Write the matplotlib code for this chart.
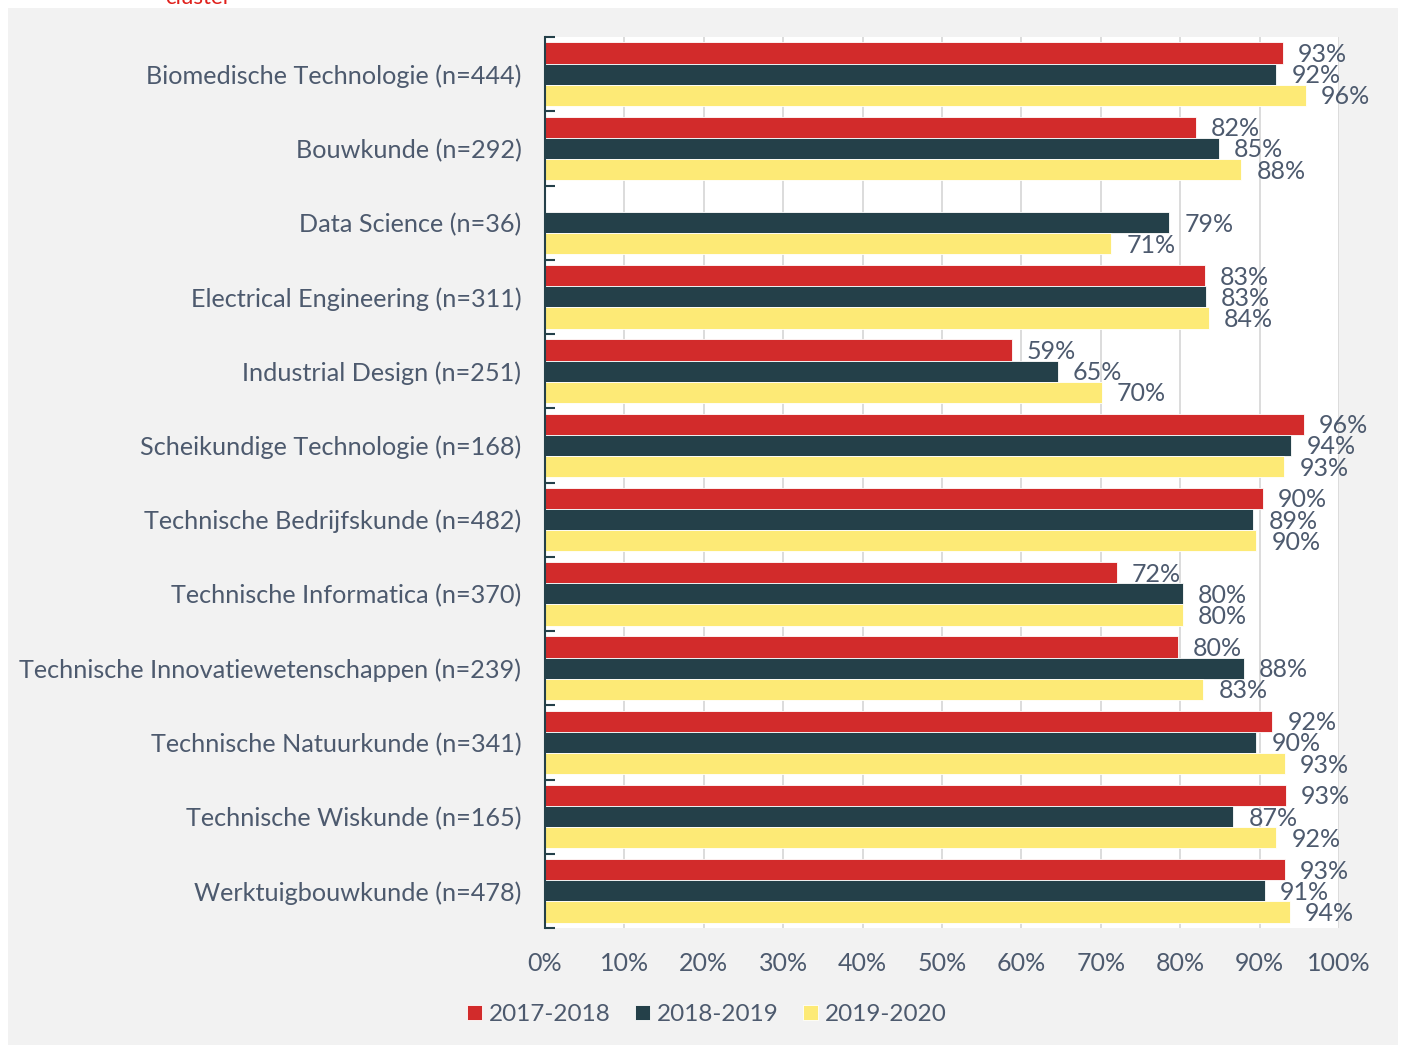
import numpy as np
import matplotlib
matplotlib.use("Agg")
import matplotlib.pyplot as plt
from matplotlib.patches import Rectangle
from matplotlib.ticker import FixedLocator, PercentFormatter

plt.rcParams['font.family'] = ['Lato', 'DejaVu Sans']

# data (in percent)
categories = [
    'Biomedische Technologie (n=444)',
    'Bouwkunde (n=292)',
    'Data Science (n=36)',
    'Electrical Engineering (n=311)',
    'Industrial Design (n=251)',
    'Scheikundige Technologie (n=168)',
    'Technische Bedrijfskunde (n=482)',
    'Technische Informatica (n=370)',
    'Technische Innovatiewetenschappen (n=239)',
    'Technische Natuurkunde (n=341)',
    'Technische Wiskunde (n=165)',
    'Werktuigbouwkunde (n=478)',
]
years = ['2017-2018', '2018-2019', '2019-2020']
v_1718 = [92.9, 82.0, np.nan, 83.1, 58.8, 95.6, 90.4, 72.0, 79.7, 91.6, 93.3, 93.2]
v_1819 = [92.1, 84.9, 78.6, 83.2, 64.6, 94.0, 89.2, 80.3, 88.0, 89.6, 86.7, 90.7]
v_1920 = [95.8, 87.7, 71.3, 83.6, 70.1, 93.1, 89.6, 80.3, 82.9, 93.2, 92.1, 93.8]

colors = ['#d22b2b', '#244049', '#fdea76']
txt_col = '#4d5a6e'

fig = plt.figure(figsize=(14.02, 10.45), dpi=100)
fig.patch.set_facecolor('white')
# grey panel behind the chart
fig.patches.append(Rectangle((8/1402, 0), 1390/1402, 1037/1045, transform=fig.transFigure,
                             facecolor='#f2f2f2', edgecolor='none', zorder=-5))
fig.text(165/1402, 1 - 4/1045, 'cluster', color='#e0201b', fontsize=16, va='baseline')

ax = fig.add_axes([545/1402, 1 - 928/1045, 794/1402, 891/1045])
ax.set_zorder(1)
ax.set_facecolor('white')

y = np.arange(len(categories))
h = 0.285
for k, (vals, c, lab) in enumerate(zip([v_1718, v_1819, v_1920], colors, years)):
    pos = y + (k - 1) * h
    ax.barh(pos, vals, height=h, color=c, edgecolor='white', linewidth=0.6, label=lab, zorder=2)
    for p, v in zip(pos, vals):
        if np.isnan(v):
            continue
        ax.text(v + 1.9, p + 0.02, f'{v:.0f}%', va='center', ha='left', fontsize=18,
                color=txt_col, zorder=3)

ax.set_xlim(0, 100)
ax.set_ylim(len(categories) - 0.5, -0.5)
ax.xaxis.set_major_locator(FixedLocator(np.arange(0, 101, 10)))
ax.xaxis.set_major_formatter(PercentFormatter(decimals=0))
ax.grid(axis='x', color='#d9d9d9', linewidth=1.3, zorder=0)
ax.set_axisbelow(True)

ax.set_yticks(y)
ax.set_yticklabels(categories, fontsize=18.2, color=txt_col)
ax.yaxis.set_minor_locator(FixedLocator(np.arange(-0.5, len(categories), 1)))
ax.tick_params(axis='y', which='major', length=0, pad=17)
ax.tick_params(axis='y', which='minor', length=7, width=1.5, direction='in', color='#244049')
ax.tick_params(axis='x', length=0, labelsize=18, labelcolor=txt_col, pad=17)

for s in ['top', 'right', 'bottom']:
    ax.spines[s].set_visible(False)
ax.spines['left'].set_color('#244049')
ax.spines['left'].set_linewidth(1.5)

ax.legend(loc='upper center', bbox_to_anchor=(707/1402, 1 - 982/1045), bbox_transform=fig.transFigure,
          ncol=3, frameon=False, fontsize=17.5, labelcolor=txt_col, handlelength=0.6, handleheight=0.6,
          handletextpad=0.3, columnspacing=1.0)

fig.savefig('out.png', dpi=100, facecolor=fig.get_facecolor())
